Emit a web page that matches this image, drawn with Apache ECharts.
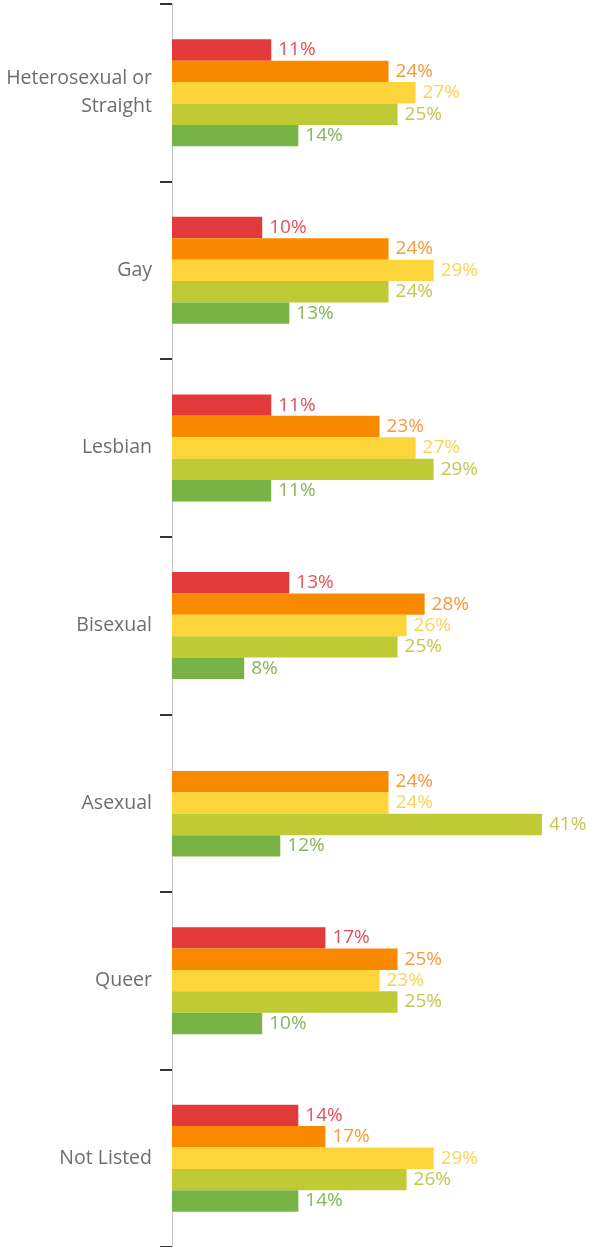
<!DOCTYPE html>
<html><head><meta charset="utf-8">
<script src="https://cdn.jsdelivr.net/npm/echarts@6/dist/echarts.min.js"></script>
<style>html,body{margin:0;padding:0;background:#fff}#c{width:594px;height:1247px}</style>
</head><body><div id="c"></div>
<script>
const categories = ["Heterosexual or\nStraight", "Gay", "Lesbian", "Bisexual", "Asexual", "Queer", "Not Listed"];
const seriesRed = [11, 10, 11, 13, null, 17, 14];
const seriesOrange = [24, 24, 23, 28, 24, 25, 17];
const seriesYellow = [27, 29, 27, 26, 24, 23, 29];
const seriesOlive = [25, 24, 29, 25, 41, 25, 26];
const seriesGreen = [14, 13, 11, 8, 12, 10, 14];

const colors = ["#e2393a", "#f98a00", "#fdd43a", "#bfca34", "#77b445"];
const labelColors = ["#e4505a", "#f49a3c", "#f9d457", "#c2c850", "#84b65a"];
const font = "Open Sans";
const dataSets = [seriesRed, seriesOrange, seriesYellow, seriesOlive, seriesGreen];
const names = ["s1", "s2", "s3", "s4", "s5"];

const chart = echarts.init(document.getElementById('c'), null, {renderer: 'canvas'});
chart.setOption({
  animation: false,
  grid: {left: 172, top: 4, width: 406, height: 1247, containLabel: false},
  xAxis: {type: 'value', min: 0, max: 45, show: false},
  yAxis: {
    type: 'category', data: categories, inverse: true,
    axisLine: {show: true, lineStyle: {color: '#c8c8c8', width: 1}},
    axisTick: {show: true, length: 12, lineStyle: {color: '#333', width: 2}},
    axisLabel: {margin: 20, color: '#6b6d70', fontFamily: font, fontSize: 19.5, lineHeight: 28, align: 'right'}
  },
  series: dataSets.map((d, i) => ({
    type: 'bar', name: names[i], data: d,
    barWidth: 21.4, barGap: '0%',
    itemStyle: {color: colors[i]},
    label: {show: true, position: 'right', distance: 7, color: labelColors[i], fontFamily: font, fontSize: 19,
      formatter: p => p.value == null ? '' : p.value + '%'}
  }))
});
</script></body></html>
